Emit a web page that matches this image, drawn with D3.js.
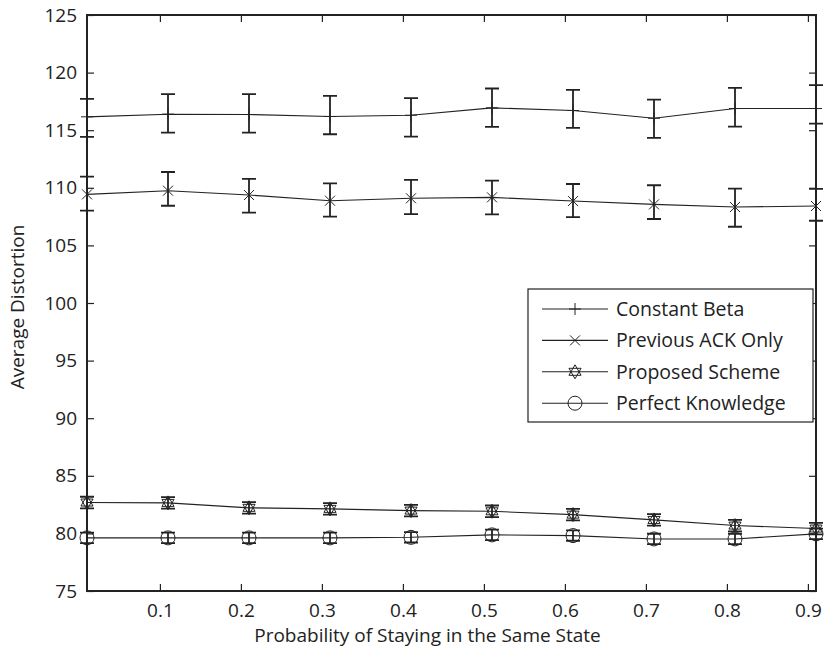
<!DOCTYPE html>
<html><head><meta charset="utf-8">
<script src="https://cdn.jsdelivr.net/npm/d3@7"></script>
<style>
body{margin:0;background:#fff;}
text{font-family:"Open Sans",sans-serif;fill:#222;}
</style></head>
<body><svg id="chart" width="824" height="654"></svg>
<script>
const xValues = [0.01, 0.11, 0.21, 0.31, 0.41, 0.51, 0.61, 0.71, 0.81, 0.91];
const xTicks = [0.1, 0.2, 0.3, 0.4, 0.5, 0.6, 0.7, 0.8, 0.9];
const yTicks = [75, 80, 85, 90, 95, 100, 105, 110, 115, 120, 125];

const constantBeta     = [116.16, 116.39, 116.36, 116.19, 116.30, 116.94, 116.71, 116.04, 116.88, 116.88];
const constantBetaLow  = [114.42, 114.79, 114.79, 114.65, 114.45, 115.29, 115.20, 114.33, 115.31, 115.57];
const constantBetaHigh = [117.72, 118.13, 118.13, 117.98, 117.78, 118.62, 118.50, 117.66, 118.68, 118.91];

const previousAck     = [109.43, 109.75, 109.37, 108.88, 109.09, 109.17, 108.85, 108.56, 108.33, 108.42];
const previousAckLow  = [108.01, 108.44, 107.84, 107.49, 107.72, 107.69, 107.46, 107.29, 106.62, 107.14];
const previousAckHigh = [110.97, 111.37, 110.77, 110.39, 110.68, 110.62, 110.33, 110.22, 109.92, 109.90];

const proposed     = [82.68, 82.65, 82.22, 82.13, 81.98, 81.92, 81.63, 81.17, 80.68, 80.42];
const proposedLow  = [82.18, 82.15, 81.72, 81.63, 81.48, 81.42, 81.13, 80.67, 80.18, 79.92];
const proposedHigh = [83.18, 83.15, 82.72, 82.63, 82.48, 82.42, 82.13, 81.67, 81.18, 80.92];

const perfect     = [79.61, 79.61, 79.61, 79.61, 79.66, 79.87, 79.81, 79.52, 79.52, 79.96];
const perfectLow  = [79.16, 79.16, 79.16, 79.16, 79.21, 79.42, 79.36, 79.07, 79.07, 79.51];
const perfectHigh = [80.06, 80.06, 80.06, 80.06, 80.11, 80.32, 80.26, 79.97, 79.97, 80.41];

const seriesNames = ["Constant Beta", "Previous ACK Only", "Proposed Scheme", "Perfect Knowledge"];
const markerTypes = ["plus", "cross", "hexagram", "circle"];

const series = [
  {name: seriesNames[0], marker: markerTypes[0], v: constantBeta, lo: constantBetaLow, hi: constantBetaHigh},
  {name: seriesNames[1], marker: markerTypes[1], v: previousAck, lo: previousAckLow, hi: previousAckHigh},
  {name: seriesNames[2], marker: markerTypes[2], v: proposed, lo: proposedLow, hi: proposedHigh},
  {name: seriesNames[3], marker: markerTypes[3], v: perfect, lo: perfectLow, hi: perfectHigh}
];

const W = 824, H = 654;
const m = {left: 87, top: 15, right: 8, bottom: 63};
const svg = d3.select("#chart");
const x = d3.scaleLinear().domain([0.01, 0.91]).range([m.left, W - m.right]);
const y = d3.scaleLinear().domain([75, 125]).range([H - m.bottom, m.top]);
const ink = "#222";
const fs = 19;
const fsLegend = 19.5;

// axes with inward ticks
const gx = svg.append("g").attr("transform", `translate(0,${H - m.bottom})`)
  .call(d3.axisBottom(x).tickValues(xTicks).tickSize(-7).tickPadding(13).tickFormat(d3.format(".1f")));
const gxt = svg.append("g").attr("transform", `translate(0,${m.top})`)
  .call(d3.axisTop(x).tickValues(xTicks).tickSize(-7).tickFormat(""));
const gy = svg.append("g").attr("transform", `translate(${m.left},0)`)
  .call(d3.axisLeft(y).tickValues(yTicks).tickSize(-7).tickPadding(10));
const gyr = svg.append("g").attr("transform", `translate(${W - m.right},0)`)
  .call(d3.axisRight(y).tickValues(yTicks).tickSize(-7).tickFormat(""));
[gx, gxt, gy, gyr].forEach(g => {
  g.select(".domain").remove();
  g.selectAll(".tick line").attr("stroke", ink).attr("stroke-width", 1.2);
  g.selectAll(".tick text").attr("font-size", fs).attr("font-family", "Open Sans").attr("fill", ink);
});
gx.selectAll(".tick text").attr("dy", "0.71em");

// frame
svg.append("rect").attr("x", m.left).attr("y", m.top)
  .attr("width", W - m.left - m.right).attr("height", H - m.top - m.bottom)
  .attr("fill", "none").attr("stroke", ink).attr("stroke-width", 2);

// labels
svg.append("text").attr("x", (m.left + W - m.right) / 2 - 24).attr("y", 642)
  .attr("text-anchor", "middle").attr("font-size", fs).text("Probability of Staying in the Same State");
svg.append("text").attr("transform", `translate(24,${(m.top + H - m.bottom) / 2 + 4}) rotate(-90)`)
  .attr("text-anchor", "middle").attr("font-size", fs).text("Average Distortion");

function drawMarker(g, type, cx, cy) {
  const s = g.append("g").attr("transform", `translate(${cx},${cy})`)
    .attr("fill", "none").attr("stroke", ink).attr("stroke-width", 1);
  if (type === "plus") {
    s.append("path").attr("d", "M-6,0H6M0,-6V6");
  } else if (type === "cross") {
    s.append("path").attr("d", "M-5,-5L5,5M-5,5L5,-5");
  } else if (type === "hexagram") {
    const r = 7;
    const up = [0, 1, 2].map(i => [r * Math.sin(i * 2 * Math.PI / 3), -r * Math.cos(i * 2 * Math.PI / 3)]);
    const dn = up.map(p => [p[0], -p[1]]);
    s.append("path").attr("d", "M" + up.join("L") + "Z");
    s.append("path").attr("d", "M" + dn.join("L") + "Z");
  } else if (type === "circle") {
    s.append("circle").attr("r", 7);
  }
}

const line = d3.line().x(d => x(d[0])).y(d => y(d[1]));
series.forEach(sr => {
  const pts = xValues.map((xv, i) => [xv, sr.v[i]]);
  svg.append("path").attr("d", line(pts)).attr("fill", "none").attr("stroke", ink).attr("stroke-width", 1.1);
  const g = svg.append("g");
  xValues.forEach((xv, i) => {
    const cx = x(xv), yl = y(sr.lo[i]), yh = y(sr.hi[i]);
    g.append("path").attr("d", `M${cx},${yl}V${yh}M${cx - 7},${yl}H${cx + 7}M${cx - 7},${yh}H${cx + 7}`)
      .attr("stroke", ink).attr("stroke-width", 1.8).attr("fill", "none");
    drawMarker(g, sr.marker, cx, y(sr.v[i]));
  });
});

// legend
const lg = svg.append("g");
lg.append("rect").attr("x", 528).attr("y", 289).attr("width", 285).attr("height", 133)
  .attr("fill", "#fff").attr("stroke", ink).attr("stroke-width", 1.2);
series.forEach((sr, i) => {
  const ly = 309 + i * 31.4;
  lg.append("path").attr("d", `M542,${ly}H608`).attr("stroke", ink).attr("stroke-width", 1.1);
  drawMarker(lg, sr.marker, 575, ly);
  lg.append("text").attr("x", 616).attr("y", ly).attr("dy", "0.35em").attr("font-size", fsLegend).text(sr.name);
});
</script>
</body></html>
